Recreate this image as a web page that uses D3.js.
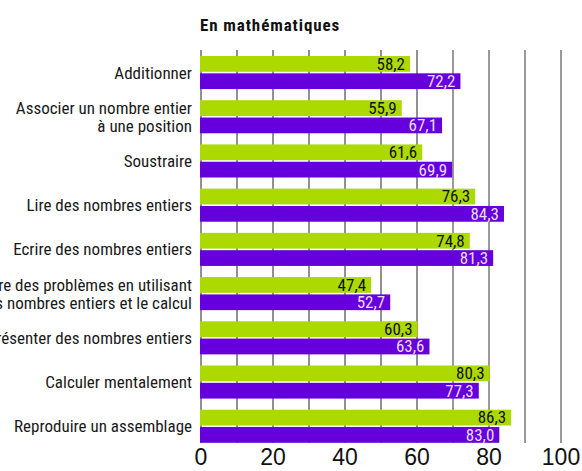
<!DOCTYPE html>
<html>
<head>
<meta charset="utf-8">
<script src="https://cdn.jsdelivr.net/npm/d3@7"></script>
<style>
  body { margin: 0; background: #fff; }
  svg { display: block; }
  .narrow { font-family: "Liberation Sans Narrow", "Arial Narrow", "Roboto Condensed", sans-serif; }
</style>
</head>
<body>
<svg></svg>
<script>
// chart data
let categories = [
    ['Additionner'],
    ['Associer un nombre entier', 'à une position'],
    ['Soustraire'],
    ['Lire des nombres entiers'],
    ['Ecrire des nombres entiers'],
    ['Résoudre des problèmes en utilisant', 'les nombres entiers et le calcul'],
    ['Représenter des nombres entiers'],
    ['Calculer mentalement'],
    ['Reproduire un assemblage']
];
let greenValues = [58.2, 55.9, 61.6, 76.3, 74.8, 47.4, 60.3, 80.3, 86.3];
let purpleValues = [72.2, 67.1, 69.9, 84.3, 81.3, 52.7, 63.6, 77.3, 83.0];
let tickLabels = [0, 20, 40, 60, 80, 100];
let title = 'En mathématiques';

let width = 582;
let height = 471;

let svg = d3.select('svg')
    .attr('width', width)
    .attr('height', height);

// scales
let xScale = d3.scaleLinear()
    .domain([0, 100])
    .range([200.5, 560.5]);

let keys = categories.map(function(c, i) { return i; });
let yScale = d3.scaleBand()
    .domain(keys)
    .range([56, 442.8])
    .paddingInner(0.2517)
    .paddingOuter(0);

let series = ['green', 'purple'];
let ySub = d3.scaleBand()
    .domain(series)
    .range([0, yScale.bandwidth()])
    .paddingInner(0.09);

let colors = { green: '#acd900', purple: '#6500dc' };
let textColors = { green: '#111', purple: '#eadcff' };

// gridlines (10 by 10)
let gridAxis = d3.axisBottom(xScale)
    .tickValues(d3.range(0, 101, 10))
    .tickSize(-(443 - 50))
    .tickFormat('');
let grid = svg.append('g')
    .attr('transform', 'translate(0, 443)')
    .call(gridAxis);
grid.select('.domain').remove();
grid.selectAll('.tick line')
    .attr('stroke', function(d) { return d <= 60 ? '#222' : '#999'; })
    .attr('stroke-width', function(d) { return d <= 60 ? 1 : 2; });

// tick labels
let labelAxis = d3.axisBottom(xScale)
    .tickValues(tickLabels)
    .tickSize(0)
    .tickPadding(6);
let labels = svg.append('g')
    .attr('transform', 'translate(0, 443)')
    .call(labelAxis);
labels.select('.domain').remove();
labels.selectAll('text')
    .attr('font-family', 'Liberation Sans, Arial, sans-serif')
    .attr('font-size', 23)
    .attr('fill', '#111');

// bars
let rows = keys.map(function(i) {
    return [
        { key: 'green', cat: i, value: greenValues[i] },
        { key: 'purple', cat: i, value: purpleValues[i] }
    ];
});

let groups = svg.selectAll('g.row')
    .data(rows)
    .enter()
    .append('g')
    .attr('class', 'row')
    .attr('transform', function(d, i) { return `translate(0, ${yScale(i)})`; });

groups.selectAll('rect')
    .data(function(d) { return d; })
    .enter()
    .append('rect')
    .attr('x', xScale(0) - 0.5)
    .attr('y', function(d) { return ySub(d.key); })
    .attr('width', function(d) { return xScale(d.value) - xScale(0) + 0.5; })
    .attr('height', ySub.bandwidth())
    .attr('fill', function(d) { return colors[d.key]; });

groups.selectAll('text.value')
    .data(function(d) { return d; })
    .enter()
    .append('text')
    .attr('class', 'value narrow')
    .attr('x', function(d) { return xScale(d.value) - 5; })
    .attr('y', function(d) { return ySub(d.key) + ySub.bandwidth() - 2; })
    .attr('text-anchor', 'end')
    .attr('font-size', 17)
    .attr('fill', function(d) { return textColors[d.key]; })
    .text(function(d) { return d.value.toFixed(1).replace('.', ','); });

// category labels
let catLabels = svg.selectAll('text.cat')
    .data(categories)
    .enter()
    .append('text')
    .attr('class', 'cat narrow')
    .attr('text-anchor', 'end')
    .attr('font-size', 17)
    .attr('fill', '#1a1a1a')
    .attr('y', function(d, i) {
        let mid = yScale(i) + yScale.bandwidth() / 2;
        return mid + 6 - (d.length - 1) * 9;
    });

catLabels.selectAll('tspan')
    .data(function(d) { return d; })
    .enter()
    .append('tspan')
    .attr('x', 192)
    .attr('dy', function(d, i) { return i === 0 ? 0 : 18; })
    .text(function(d) { return d; });

// title
svg.append('text')
    .attr('class', 'narrow')
    .attr('x', 200)
    .attr('y', 31)
    .attr('font-size', 17)
    .attr('font-weight', 'bold')
    .attr('letter-spacing', 0.9)
    .attr('fill', '#111')
    .text(title);
</script>
</body>
</html>
